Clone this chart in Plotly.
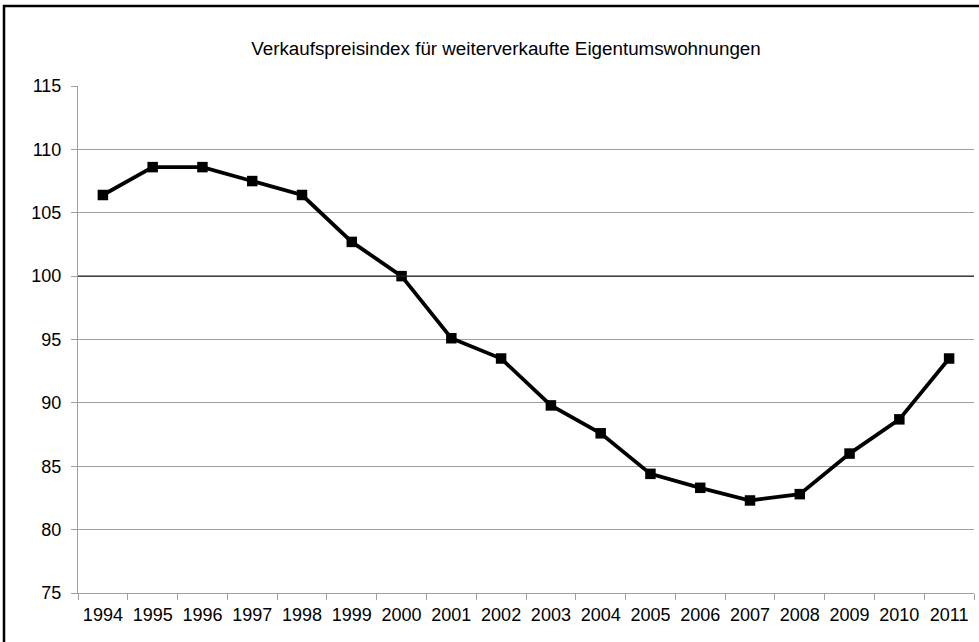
import plotly.graph_objects as go

years = [str(y) for y in range(1994, 2012)]
index_values = [106.4, 108.6, 108.6, 107.5, 106.4, 102.7, 100.0, 95.1, 93.5,
                89.8, 87.6, 84.4, 83.3, 82.3, 82.8, 86.0, 88.7, 93.5]
y_ticks = [75, 80, 85, 90, 95, 100, 105, 110, 115]
title_text = "Verkaufspreisindex für weiterverkaufte Eigentumswohnungen"

W, H = 979, 642
ml, mr, mt, mb = 78, 5, 86, 49
pw, ph = W - ml - mr, H - mt - mb

fig = go.Figure()
fig.add_trace(go.Scatter(
    x=years, y=index_values, mode="lines+markers",
    line=dict(color="black", width=3.8),
    marker=dict(symbol="square", size=10.5, color="black"),
    showlegend=False, cliponaxis=False,
))

# reference line at 100
fig.add_hline(y=100, line=dict(color="#202020", width=1.4), layer="above")

# outer chart border (top-left corner visible, rest cropped)
fig.add_shape(type="rect", xref="paper", yref="paper",
              x0=(4 - ml) / pw, x1=(W + 10 - ml) / pw,
              y0=-(mb + 10) / ph, y1=1 + (mt - 6) / ph,
              line=dict(color="black", width=2.5), fillcolor="rgba(0,0,0,0)",
              layer="above")

fig.update_layout(
    width=W, height=H,
    margin=dict(l=ml, r=mr, t=mt, b=mb),
    paper_bgcolor="white", plot_bgcolor="white",
    font=dict(family="Liberation Sans, Arial, sans-serif", color="black", size=18),
    title=dict(text=title_text, xref="container", x=506 / W, xanchor="center",
               y=1 - 48 / H, yanchor="middle", font=dict(size=18.8)),
    xaxis=dict(
        type="category", tickson="boundaries", ticks="outside", ticklen=6,
        tickcolor="#a0a0a0", showline=True, linecolor="#a0a0a0", linewidth=1,
        showgrid=False, range=[-0.5, len(years) - 0.5],
        tickfont=dict(size=18), ticklabelstandoff=5,
    ),
    yaxis=dict(
        range=[75, 115], tickvals=y_ticks, ticks="outside", ticklen=6,
        tickcolor="#a0a0a0", showline=True, linecolor="#a0a0a0", linewidth=1,
        showgrid=True, gridcolor="#a0a0a0", gridwidth=1, zeroline=False,
        tickfont=dict(size=18), ticklabelstandoff=6,
    ),
)

fig.write_html("out.html", config={"displayModeBar": False},
               post_script="document.body.style.margin='0';document.body.style.overflow='hidden';")
